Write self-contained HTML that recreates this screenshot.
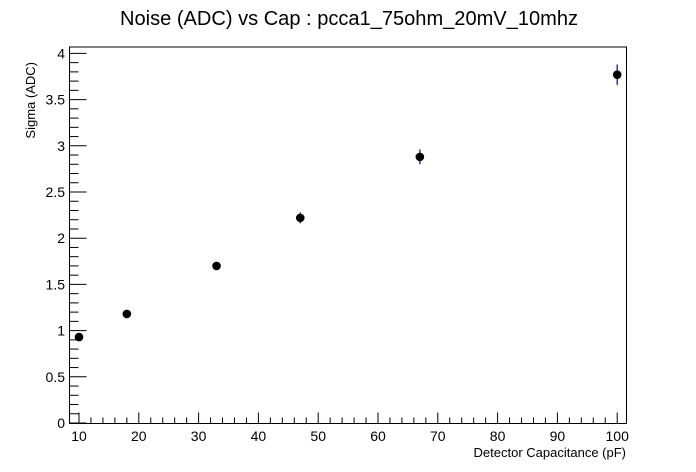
<!DOCTYPE html>
<html><head><meta charset="utf-8"><style>
html,body{margin:0;padding:0;background:#fff;}
svg{display:block;font-family:"Liberation Sans",Arial,sans-serif;}
</style></head><body>
<svg id="chart" width="696" height="472" viewBox="0 0 696 472">
<rect width="696" height="472" fill="#fff"/>
<text x="349" y="25" font-size="20" text-anchor="middle" textLength="458" lengthAdjust="spacingAndGlyphs">Noise (ADC) vs Cap : pcca1_75ohm_20mV_10mhz</text>
<rect x="69.5" y="47" width="557" height="376.5" fill="none" stroke="#000" stroke-width="1"/>
<g id="axes"></g>
<g id="marks"></g>
<text x="626" y="457" font-size="13" text-anchor="end">Detector Capacitance (pF)</text>
<text transform="translate(35,62) rotate(-90)" font-size="13" text-anchor="end">Sigma (ADC)</text>
</svg>
<script>
const capacitance = [10, 18, 33, 47, 67, 100];
const sigma = [0.93, 1.18, 1.70, 2.22, 2.88, 3.77];
const sigmaErr = [0.04, 0.04, 0.04, 0.06, 0.08, 0.11];
const xTicks = [10, 20, 30, 40, 50, 60, 70, 80, 90, 100];
const yTicks = [0, 0.5, 1, 1.5, 2, 2.5, 3, 3.5, 4];

const NS = "http://www.w3.org/2000/svg";
function xs(v){ return 79 + (v - 10) * 5.98; }
function ys(v){ return 423 - v * 92.4; }
function mk(tag, attrs, parent){
  const e = document.createElementNS(NS, tag);
  for (const k in attrs) e.setAttribute(k, attrs[k]);
  parent.appendChild(e); return e;
}
const axes = document.getElementById('axes');
const marks = document.getElementById('marks');
const B = 423.5, L = 69.5;
for (let v = 8; v <= 102; v += 2) {
  const x = xs(v);
  if (x < L + 1 || x > 626) continue;
  const len = v % 10 === 0 ? 11 : 6;
  const t = mk('line', {x1:x, x2:x, y1:B, y2:B-len, stroke:'#000', 'stroke-width':1}, axes);
  
  
}
xTicks.forEach(v => {
  const t = mk('text', {x:xs(v), y:441, 'font-size':14, 'text-anchor':'middle'}, axes);
  t.textContent = v;
  
  
});
for (let i = 0; i <= 40; i++) {
  const v = i * 0.1;
  const y = ys(v);
  const len = i % 5 === 0 ? 17 : 9;
  const t = mk('line', {x1:L, x2:L+len, y1:y, y2:y, stroke:'#000', 'stroke-width':1}, axes);
  
  
}
yTicks.forEach(v => {
  const t = mk('text', {x:65, y:ys(v)+5, 'font-size':14, 'text-anchor':'end'}, axes);
  t.textContent = v;
  
  
});
capacitance.forEach((c, i) => {
  const x = xs(c), y = ys(sigma[i]);
  const e = mk('line', {x1:x, x2:x, y1:ys(sigma[i]+sigmaErr[i]), y2:ys(sigma[i]-sigmaErr[i]), stroke:'#00008b', 'stroke-width':1.2}, marks);
  
  
  const p = mk('circle', {cx:x, cy:y, r:4.3, fill:'#000'}, marks);
  
  
});
</script>
</body></html>
